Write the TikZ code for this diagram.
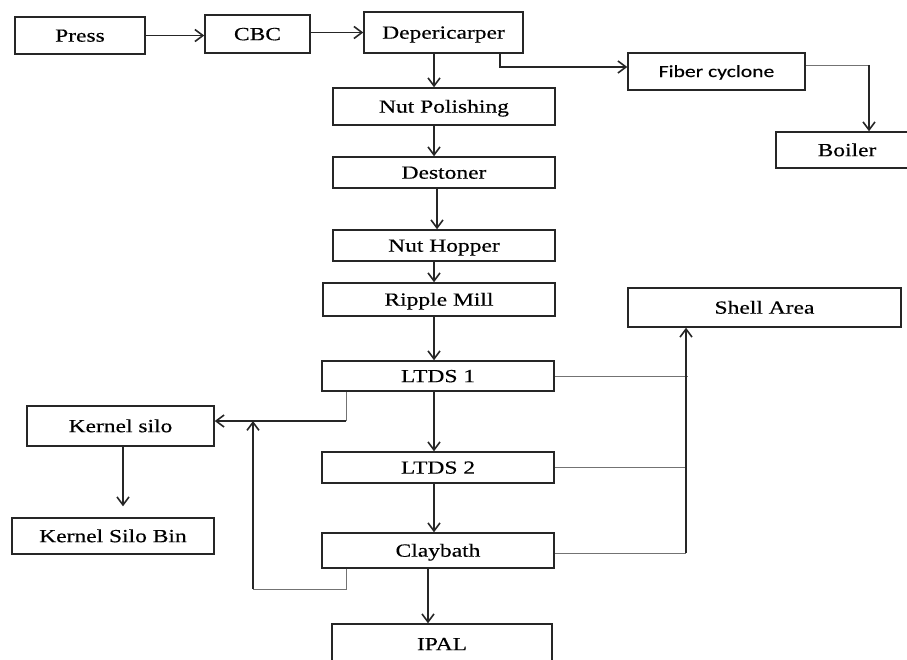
\documentclass[tikz,border=0pt]{standalone}
\usepackage{fontspec}
\setmainfont[FakeStretch=1.27,FakeBold=0.4]{Liberation Serif}
\newfontfamily\labelsans[FakeStretch=1.27,FakeBold=0.3]{Carlito}
\usetikzlibrary{arrows.meta}

\tikzset{
  box/.style={draw=black!85, line width=1.5pt, fill=white, inner sep=0pt,
    font=\fontsize{18.5}{20}\selectfont, text height=12.3pt, text depth=0pt},
  sansbox/.style={box, font=\labelsans\fontsize{17}{19}\selectfont, text height=11pt},
  flow/.style={draw=black!85, line width=1.6pt,
    -{Straight Barb[length=8pt,width=12pt,line width=1.6pt]}},
  tap/.style={draw=black!55, line width=1pt},
}

\begin{document}
\begin{tikzpicture}[x=1pt, y=-1pt]
\useasboundingbox (0,0) rectangle (907,659);

% process boxes
\node[box, minimum width=130pt, minimum height=37pt] (press)  at (80,35.5)   {Press};
\node[box, minimum width=105pt, minimum height=38pt] (cbc)    at (257.5,34)  {CBC};
\node[box, minimum width=159pt, minimum height=41pt] (dep)    at (443.5,32.5){Depericarper};
\node[sansbox, minimum width=177pt, minimum height=37pt] (fiber) at (716.5,71.5) {Fiber cyclone};
\node[box, minimum width=142pt, minimum height=36pt] (boiler) at (847,150)   {Boiler};
\node[box, minimum width=222pt, minimum height=37pt] (polish) at (444,106.5) {Nut Polishing};
\node[box, minimum width=222pt, minimum height=31pt] (stone)  at (444,172.5) {Destoner};
\node[box, minimum width=222pt, minimum height=31pt] (hopper) at (444,245.5) {Nut Hopper};
\node[box, minimum width=232pt, minimum height=33pt] (ripple) at (439,299.5) {Ripple Mill};
\node[box, minimum width=273pt, minimum height=39pt] (shell)  at (764.5,307.5){Shell Area};
\node[box, minimum width=232pt, minimum height=30pt] (ltdsa)  at (438,376)   {LTDS 1};
\node[box, minimum width=232pt, minimum height=31pt] (ltdsb)  at (438,467.5) {LTDS 2};
\node[box, minimum width=232pt, minimum height=35pt] (clay)   at (438,550.5) {Claybath};
\node[box, minimum width=220pt, minimum height=40pt] (ipal)   at (442,644)   {IPAL};
\node[box, minimum width=187pt, minimum height=40pt] (ksilo)  at (120.5,426) {Kernel silo};
\node[box, minimum width=202pt, minimum height=36pt] (kbin)   at (113,536)   {Kernel Silo Bin};

% guide positions for the connector runs
\coordinate (xa) at (434,0);
\coordinate (xb) at (437,0);
\coordinate (xc) at (428,0);
\coordinate (xd) at (500,0);
\coordinate (xf) at (869,0);
\coordinate (xs) at (686,0);
\coordinate (xk) at (346,0);
\coordinate (xr) at (253,0);
\coordinate (xg) at (123,0);
\coordinate (yd) at (0,67);
\coordinate (yf) at (0,65);
\coordinate (yk) at (0,421);
\coordinate (yr) at (0,589);

% main line
\draw[flow] (press.east) -- (press.east -| cbc.west);
\draw[flow] (dep.west -| cbc.east) -- (dep.west);
\draw[flow] (dep.south -| xa) -- (polish.north -| xa);
\draw[flow] (polish.south -| xa) -- (stone.north -| xa);
\draw[flow] (stone.south -| xb) -- (hopper.north -| xb);
\draw[flow] (hopper.south -| xa) -- (ripple.north -| xa);
\draw[flow] (ripple.south -| xa) -- (ltdsa.north -| xa);
\draw[flow] (ltdsa.south -| xa) -- (ltdsb.north -| xa);
\draw[flow] (ltdsb.south -| xa) -- (clay.north -| xa);
\draw[flow] (clay.south -| xc) -- (ipal.north -| xc);

% fibre branch
\draw[flow] (dep.south -| xd) |- (yd -| fiber.west);
\draw[tap] (yf -| fiber.east) -- (yf -| xf);
\draw[flow] (yf -| xf) -- (boiler.north -| xf);

% shell collection
\draw[tap] (ltdsa.east) -- ([xshift=2pt]ltdsa.east -| xs);
\draw[tap] (ltdsb.east) -- (ltdsb.east -| xs);
\draw[tap] ([yshift=-2.5pt]clay.east) -- ([yshift=-2.5pt]clay.east -| xs);
\draw[flow] ([yshift=-2.5pt]clay.east -| xs) -- (shell.south -| xs);

% kernel return
\draw[tap] (ltdsa.south -| xk) -- (yk -| xk);
\draw[flow] (yk -| xk) -- (yk -| ksilo.east);
\draw[tap] (clay.south -| xk) |- (yr -| xr);
\draw[flow] (yr -| xr) -- (yk -| xr);
\draw[flow, shorten >=11pt] (ksilo.south -| xg) -- (kbin.north -| xg);
\end{tikzpicture}
\end{document}
